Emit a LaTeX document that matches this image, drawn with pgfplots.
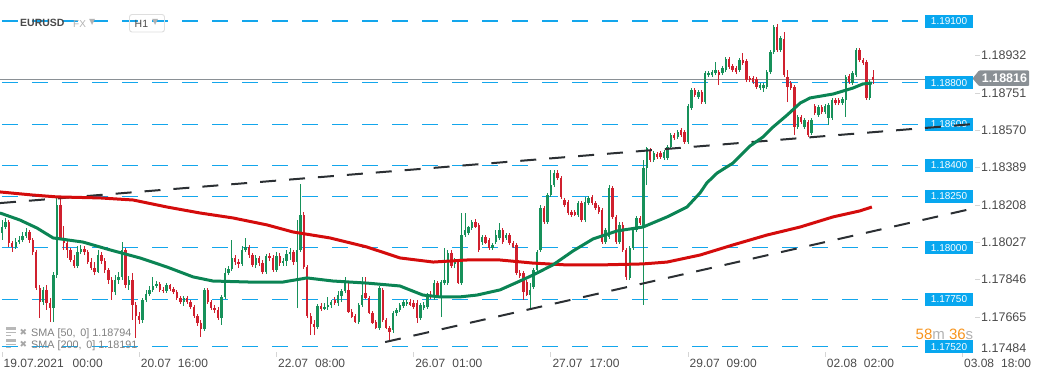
\documentclass[border=0pt]{standalone}
\usepackage{pgfplots}
\pgfplotsset{compat=1.18}
\usepackage{pgfplotstable}
\usepackage{fontspec}
\setmainfont{Liberation Sans}
\newfontfamily\symfont{DejaVu Sans}
\definecolor{levelblue}{HTML}{13A6EC}
\definecolor{levelbox}{HTML}{08A7EF}
\definecolor{candgreen}{HTML}{17915A}
\definecolor{candred}{HTML}{D0202E}
\definecolor{smagreen}{HTML}{0B8454}
\definecolor{smared}{HTML}{D40C0C}
\definecolor{trend}{HTML}{2B2F33}
\definecolor{pricegray}{HTML}{8A9095}
\definecolor{labelgray}{HTML}{4A4A4A}
\definecolor{tickgray}{HTML}{D5D5D5}
\definecolor{legendgray}{HTML}{808080}
\definecolor{countorange}{HTML}{F7941D}

\pgfplotstableread{
i o h l c
0 1.18072 1.18135 1.18038 1.18101
1 1.18101 1.18145 1.18091 1.18125
2 1.18125 1.18135 1.18004 1.18024
3 1.18024 1.18033 1.17980 1.18004
4 1.18004 1.18048 1.17994 1.18028
5 1.18028 1.18057 1.18019 1.18038
6 1.18038 1.18077 1.18028 1.18057
7 1.18057 1.18096 1.18048 1.18077
8 1.18077 1.18087 1.18024 1.18038
9 1.18038 1.18048 1.17965 1.17980
10 1.17980 1.17990 1.17796 1.17805
11 1.17805 1.17820 1.17660 1.17737
12 1.17737 1.17810 1.17723 1.17796
13 1.17796 1.17820 1.17699 1.17732
14 1.17732 1.17757 1.17640 1.17708
15 1.17708 1.17883 1.17640 1.17868
16 1.17868 1.18242 1.17854 1.18208
17 1.18208 1.18247 1.18038 1.18048
18 1.18048 1.18106 1.17990 1.18024
19 1.18024 1.18038 1.17951 1.17990
20 1.17990 1.17999 1.17931 1.17941
21 1.17941 1.17965 1.17902 1.17912
22 1.17912 1.18009 1.17902 1.17980
23 1.17980 1.18014 1.17970 1.17994
24 1.17994 1.18009 1.17965 1.17980
25 1.17980 1.17990 1.17922 1.17931
26 1.17931 1.17951 1.17893 1.17902
27 1.17902 1.17931 1.17868 1.17883
28 1.17883 1.17990 1.17878 1.17965
29 1.17965 1.17980 1.17922 1.17936
30 1.17936 1.17951 1.17878 1.17893
31 1.17893 1.17902 1.17825 1.17844
32 1.17844 1.17859 1.17747 1.17786
33 1.17786 1.17868 1.17771 1.17844
34 1.17844 1.17883 1.17825 1.17859
35 1.17859 1.18028 1.17844 1.17990
36 1.17990 1.17999 1.17805 1.17820
37 1.17820 1.17863 1.17796 1.17844
38 1.17844 1.17878 1.17650 1.17723
39 1.17723 1.17737 1.17563 1.17669
40 1.17669 1.17689 1.17631 1.17650
41 1.17650 1.17757 1.17636 1.17747
42 1.17747 1.17796 1.17737 1.17776
43 1.17776 1.17815 1.17766 1.17796
44 1.17796 1.17859 1.17786 1.17815
45 1.17815 1.17839 1.17805 1.17825
46 1.17825 1.17834 1.17786 1.17796
47 1.17796 1.17810 1.17781 1.17791
48 1.17791 1.17829 1.17781 1.17820
49 1.17820 1.17825 1.17791 1.17800
50 1.17800 1.17810 1.17776 1.17786
51 1.17786 1.17796 1.17747 1.17757
52 1.17757 1.17766 1.17728 1.17737
53 1.17737 1.17766 1.17718 1.17757
54 1.17757 1.17766 1.17728 1.17737
55 1.17737 1.17747 1.17703 1.17713
56 1.17713 1.17723 1.17660 1.17669
57 1.17669 1.17679 1.17621 1.17636
58 1.17636 1.17650 1.17568 1.17606
59 1.17606 1.17805 1.17597 1.17796
60 1.17796 1.17805 1.17728 1.17737
61 1.17737 1.17747 1.17699 1.17708
62 1.17708 1.17723 1.17684 1.17699
63 1.17699 1.17713 1.17650 1.17660
64 1.17660 1.17771 1.17626 1.17762
65 1.17762 1.17902 1.17752 1.17878
66 1.17878 1.17912 1.17868 1.17897
67 1.17897 1.18038 1.17888 1.17951
68 1.17951 1.17965 1.17917 1.17931
69 1.17931 1.17946 1.17902 1.17922
70 1.17922 1.18009 1.17912 1.17990
71 1.17990 1.18048 1.17980 1.18004
72 1.18004 1.18014 1.17951 1.17965
73 1.17965 1.17975 1.17907 1.17917
74 1.17917 1.17965 1.17902 1.17951
75 1.17951 1.17960 1.17912 1.17926
76 1.17926 1.17941 1.17873 1.17883
77 1.17883 1.17970 1.17873 1.17960
78 1.17960 1.17975 1.17936 1.17951
79 1.17951 1.17965 1.17883 1.17893
80 1.17893 1.17980 1.17883 1.17960
81 1.17960 1.17975 1.17912 1.17926
82 1.17926 1.17951 1.17912 1.17936
83 1.17936 1.17990 1.17912 1.17970
84 1.17970 1.17999 1.17941 1.17980
85 1.17980 1.17990 1.17917 1.17931
86 1.17931 1.18135 1.17708 1.17990
87 1.17990 1.18310 1.17980 1.18159
88 1.18159 1.18174 1.17897 1.17907
89 1.17907 1.17917 1.17660 1.17669
90 1.17669 1.17684 1.17577 1.17631
91 1.17631 1.17650 1.17577 1.17616
92 1.17616 1.17728 1.17606 1.17718
93 1.17718 1.17732 1.17694 1.17703
94 1.17703 1.17732 1.17699 1.17713
95 1.17713 1.17762 1.17699 1.17723
96 1.17723 1.17747 1.17708 1.17737
97 1.17747 1.17762 1.17723 1.17732
98 1.17732 1.17791 1.17718 1.17771
99 1.17766 1.17800 1.17737 1.17791
100 1.17791 1.17859 1.17781 1.17829
101 1.17796 1.17829 1.17684 1.17689
102 1.17689 1.17703 1.17660 1.17665
103 1.17669 1.17679 1.17636 1.17640
104 1.17640 1.17732 1.17631 1.17723
105 1.17723 1.17859 1.17713 1.17771
106 1.17781 1.17859 1.17752 1.17757
107 1.17757 1.17766 1.17679 1.17684
108 1.17684 1.17694 1.17631 1.17636
109 1.17640 1.17650 1.17606 1.17611
110 1.17611 1.17815 1.17602 1.17805
111 1.17796 1.17805 1.17640 1.17650
112 1.17650 1.17660 1.17606 1.17611
113 1.17611 1.17621 1.17553 1.17592
114 1.17602 1.17694 1.17587 1.17684
115 1.17684 1.17708 1.17669 1.17699
116 1.17699 1.17732 1.17689 1.17723
117 1.17718 1.17747 1.17708 1.17737
118 1.17728 1.17747 1.17718 1.17737
119 1.17737 1.17752 1.17718 1.17723
120 1.17732 1.17747 1.17703 1.17713
121 1.17732 1.17747 1.17636 1.17660
122 1.17660 1.17732 1.17650 1.17723
123 1.17708 1.17737 1.17699 1.17723
124 1.17713 1.17781 1.17703 1.17771
125 1.17771 1.17791 1.17752 1.17762
126 1.17762 1.17844 1.17747 1.17829
127 1.17829 1.17839 1.17757 1.17766
128 1.17766 1.17844 1.17665 1.17834
129 1.17829 1.17999 1.17820 1.17844
130 1.17829 1.17990 1.17820 1.17975
131 1.17975 1.17990 1.17902 1.17912
132 1.17922 1.17951 1.17902 1.17941
133 1.17931 1.17941 1.17825 1.17829
134 1.17829 1.18169 1.17820 1.18062
135 1.18062 1.18169 1.18053 1.18087
136 1.18072 1.18106 1.18062 1.18101
137 1.18096 1.18135 1.18087 1.18125
138 1.18125 1.18140 1.18096 1.18101
139 1.18111 1.18120 1.17980 1.17990
140 1.18028 1.18062 1.18014 1.18053
141 1.18053 1.18062 1.18019 1.18024
142 1.18038 1.18048 1.17990 1.17999
143 1.17999 1.18024 1.17990 1.18014
144 1.18028 1.18087 1.18019 1.18062
145 1.18048 1.18120 1.18038 1.18087
146 1.18087 1.18096 1.18019 1.18028
147 1.18048 1.18072 1.18038 1.18062
148 1.18062 1.18072 1.18014 1.18024
149 1.18024 1.18033 1.17999 1.18004
150 1.18014 1.18024 1.17868 1.17878
151 1.17878 1.17893 1.17854 1.17863
152 1.17878 1.17888 1.17747 1.17786
153 1.17834 1.17844 1.17766 1.17771
154 1.17771 1.17829 1.17699 1.17796
155 1.17810 1.17902 1.17800 1.17893
156 1.17893 1.17990 1.17883 1.17980
157 1.17990 1.18208 1.17980 1.18193
158 1.18193 1.18203 1.18116 1.18125
159 1.18125 1.18266 1.18116 1.18256
160 1.18256 1.18377 1.18247 1.18305
161 1.18305 1.18377 1.18295 1.18363
162 1.18363 1.18377 1.18329 1.18339
163 1.18339 1.18348 1.18237 1.18247
164 1.18232 1.18242 1.18198 1.18208
165 1.18222 1.18232 1.18159 1.18169
166 1.18174 1.18184 1.18150 1.18159
167 1.18174 1.18184 1.18154 1.18159
168 1.18159 1.18227 1.18150 1.18217
169 1.18217 1.18227 1.18125 1.18135
170 1.18135 1.18247 1.18125 1.18222
171 1.18217 1.18251 1.18208 1.18242
172 1.18247 1.18256 1.18208 1.18217
173 1.18217 1.18227 1.18184 1.18193
174 1.18198 1.18208 1.18164 1.18174
175 1.18184 1.18193 1.18019 1.18028
176 1.18028 1.18096 1.18019 1.18087
177 1.18053 1.18305 1.18043 1.18290
178 1.18290 1.18300 1.18140 1.18150
179 1.18150 1.18159 1.18019 1.18028
180 1.18028 1.18125 1.18019 1.18111
181 1.18111 1.18125 1.17980 1.17990
182 1.17990 1.17999 1.17844 1.17859
183 1.17854 1.18009 1.17844 1.17999
184 1.17999 1.18096 1.17990 1.18087
185 1.18087 1.18154 1.18077 1.18145
186 1.18145 1.18154 1.18111 1.18120
187 1.18096 1.18426 1.17723 1.18387
188 1.18387 1.18489 1.18305 1.18484
189 1.18475 1.18484 1.18416 1.18426
190 1.18426 1.18470 1.18416 1.18460
191 1.18455 1.18465 1.18431 1.18441
192 1.18460 1.18470 1.18431 1.18441
193 1.18436 1.18475 1.18426 1.18465
194 1.18436 1.18499 1.18426 1.18489
195 1.18489 1.18557 1.18479 1.18547
196 1.18547 1.18557 1.18523 1.18533
197 1.18538 1.18572 1.18528 1.18562
198 1.18572 1.18581 1.18538 1.18547
199 1.18562 1.18572 1.18504 1.18513
200 1.18513 1.18698 1.18504 1.18688
201 1.18678 1.18775 1.18669 1.18766
202 1.18766 1.18775 1.18732 1.18741
203 1.18732 1.18766 1.18722 1.18756
204 1.18756 1.18766 1.18698 1.18707
205 1.18707 1.18858 1.18698 1.18848
206 1.18838 1.18858 1.18829 1.18848
207 1.18838 1.18863 1.18829 1.18853
208 1.18848 1.18901 1.18838 1.18863
209 1.18853 1.18863 1.18790 1.18838
210 1.18848 1.18882 1.18838 1.18872
211 1.18863 1.18926 1.18853 1.18916
212 1.18916 1.18926 1.18867 1.18877
213 1.18882 1.18892 1.18853 1.18863
214 1.18872 1.18882 1.18843 1.18853
215 1.18863 1.18921 1.18853 1.18911
216 1.18911 1.18945 1.18887 1.18896
217 1.18906 1.18916 1.18804 1.18814
218 1.18824 1.18833 1.18804 1.18814
219 1.18824 1.18833 1.18795 1.18804
220 1.18819 1.18829 1.18770 1.18780
221 1.18775 1.18799 1.18766 1.18790
222 1.18775 1.18799 1.18756 1.18790
223 1.18780 1.18863 1.18770 1.18853
224 1.18853 1.18960 1.18843 1.18950
225 1.18950 1.19081 1.18940 1.19071
226 1.19071 1.19086 1.18950 1.18960
227 1.18960 1.19027 1.18950 1.19018
228 1.19013 1.19047 1.18829 1.18838
229 1.18829 1.18863 1.18707 1.18780
230 1.18799 1.18809 1.18766 1.18775
231 1.18780 1.18790 1.18547 1.18586
232 1.18586 1.18644 1.18576 1.18635
233 1.18635 1.18644 1.18601 1.18610
234 1.18586 1.18630 1.18576 1.18620
235 1.18610 1.18620 1.18538 1.18547
236 1.18557 1.18630 1.18547 1.18620
237 1.18688 1.18698 1.18644 1.18654
238 1.18644 1.18693 1.18635 1.18683
239 1.18683 1.18693 1.18649 1.18659
240 1.18659 1.18698 1.18649 1.18688
241 1.18630 1.18702 1.18596 1.18693
242 1.18630 1.18727 1.18620 1.18717
243 1.18717 1.18727 1.18693 1.18702
244 1.18717 1.18727 1.18693 1.18702
245 1.18702 1.18732 1.18693 1.18722
246 1.18717 1.18838 1.18635 1.18829
247 1.18833 1.18843 1.18795 1.18804
248 1.18799 1.18858 1.18790 1.18848
249 1.18838 1.18969 1.18829 1.18960
250 1.18960 1.18969 1.18901 1.18911
251 1.18911 1.18921 1.18887 1.18896
252 1.18901 1.18911 1.18717 1.18727
253 1.18727 1.18814 1.18717 1.18804
254 1.18829 1.18863 1.18795 1.18816
}\candles

\begin{document}
\begin{tikzpicture}
\useasboundingbox (0,0) rectangle (1041pt,379pt);
\begin{axis}[
  at={(0pt,379pt)}, anchor=north west,
  scale only axis, width=975pt, height=352pt,
  xmin=-0.583, xmax=283.67, ymin=1.174948, ymax=1.19202,
  axis line style={draw=none},
  clip=false,
  tick align=outside,
  major tick length=5pt,
  every tick/.style={draw=tickgray, line width=0.8pt},
  xtick pos=left, ytick pos=right,
  yticklabel pos=right,
  xtick={0,40,80,120,160,200,240,280},
  xticklabels={19.07.2021\hspace{9pt}00:00, 20.07\hspace{7pt}16:00, 22.07\hspace{7pt}08:00, 26.07\hspace{7pt}01:00, 27.07\hspace{7pt}17:00, 29.07\hspace{7pt}09:00, 02.08\hspace{7pt}02:00, 03.08\hspace{7pt}18:00},
  xticklabel style={anchor=north west, inner sep=0pt, xshift=1.5pt, yshift=-1.5pt, font=\fontsize{12}{14}\selectfont, text=labelgray},
  ytick={1.17665,1.17846,1.18027,1.18208,1.18389,1.18570,1.18751,1.18932},
  yticklabels={1.17665,1.17846,1.18027,1.18208,1.18389,1.18570,1.18751,1.18932},
  yticklabel style={anchor=west, inner sep=0pt, xshift=1pt, font=\fontsize{12.5}{14}\selectfont, text=labelgray},
  colormap={candle}{color=(candred) color=(candgreen)},
  point meta min=0, point meta max=1,
]
% horizontal levels
\pgfplotsinvokeforeach{1.191,1.188,1.186,1.184,1.1825,1.180,1.1775,1.1752}{
  \addplot[levelblue, line width=1.1pt, dash pattern=on 16pt off 14pt, forget plot] coordinates {(0,#1) (269.1,#1)};
}
% current price line
\addplot[pricegray, line width=0.9pt, forget plot] coordinates {(-0.583,1.18816) (283.1,1.18816)};
% level labels
\node[fill=levelbox, text=white, inner sep=0pt, minimum width=48pt, minimum height=13pt, font=\fontsize{10}{10}\selectfont] at (axis cs:276.1,1.191) {1.19100};
\node[fill=levelbox, text=white, inner sep=0pt, minimum width=48pt, minimum height=13pt, font=\fontsize{10}{10}\selectfont] at (axis cs:276.1,1.188) {1.18800};
\node[fill=levelbox, text=white, inner sep=0pt, minimum width=48pt, minimum height=13pt, font=\fontsize{10}{10}\selectfont] at (axis cs:276.1,1.186) {1.18600};
\node[fill=levelbox, text=white, inner sep=0pt, minimum width=48pt, minimum height=13pt, font=\fontsize{10}{10}\selectfont] at (axis cs:276.1,1.184) {1.18400};
\node[fill=levelbox, text=white, inner sep=0pt, minimum width=48pt, minimum height=13pt, font=\fontsize{10}{10}\selectfont] at (axis cs:276.1,1.1825) {1.18250};
\node[fill=levelbox, text=white, inner sep=0pt, minimum width=48pt, minimum height=13pt, font=\fontsize{10}{10}\selectfont] at (axis cs:276.1,1.180) {1.18000};
\node[fill=levelbox, text=white, inner sep=0pt, minimum width=48pt, minimum height=13pt, font=\fontsize{10}{10}\selectfont] at (axis cs:276.1,1.1775) {1.17750};
\node[fill=levelbox, text=white, inner sep=0pt, minimum width=48pt, minimum height=13pt, font=\fontsize{10}{10}\selectfont] at (axis cs:276.1,1.1752) {1.17520};
% candles: wicks and bodies
\addplot[quiver={u=0, v=\thisrow{h}-\thisrow{l}, colored}, line width=0.9pt, point meta={\thisrow{c}>\thisrow{o}}, forget plot] table[x=i, y=l] {\candles};
\addplot[quiver={u=0, v=\thisrow{c}-\thisrow{o}, colored}, line width=2.4pt, point meta={\thisrow{c}>\thisrow{o}}, forget plot] table[x=i, y=o] {\candles};
% trend lines
\addplot[trend, line width=2pt, dash pattern=on 16pt off 13pt, forget plot] coordinates {(-0.583,1.18217) (283.67,1.18601)};
\addplot[trend, line width=2pt, dash pattern=on 16pt off 13pt, forget plot] coordinates {(111.7,1.17543) (283.67,1.18193)};
% SMA 200
\addplot[smared, line width=3pt, line join=round, forget plot] coordinates {
(-0.6,1.18271) (9.0,1.18256) (16.0,1.18247) (28.6,1.18242) (38.2,1.18232) (48.1,1.18198) (57.7,1.18169) (67.3,1.18145) (77.3,1.18111) (84.8,1.18077) (95.6,1.18048) (106.4,1.18004) (116.0,1.17951) (125.7,1.17931) (135.6,1.17941) (145.2,1.17941) (154.8,1.17926) (164.7,1.17917) (174.3,1.17917) (186.9,1.17922) (193.9,1.17931) (203.5,1.17965) (213.1,1.18014) (223.0,1.18062) (232.7,1.18101) (242.3,1.18150) (250.1,1.18179) (253.6,1.18198)};
% SMA 50
\addplot[smagreen, line width=3pt, line join=round, forget plot] coordinates {
(-0.6,1.18169) (5.2,1.18135) (10.2,1.18096) (14.9,1.18048) (23.6,1.18028) (31.5,1.17990) (40.2,1.17951) (48.1,1.17907) (55.7,1.17859) (61.5,1.17839) (72.3,1.17834) (81.9,1.17834) (88.9,1.17854) (96.5,1.17839) (106.4,1.17829) (116.0,1.17815) (122.7,1.17771) (127.7,1.17762) (133.5,1.17762) (138.5,1.17771) (145.2,1.17796) (151.0,1.17839) (154.8,1.17868) (160.6,1.17917) (166.5,1.17985) (172.3,1.18043) (179.3,1.18082) (186.9,1.18101) (193.9,1.18150) (199.7,1.18198) (203.5,1.18266) (205.5,1.18315) (208.5,1.18363) (213.1,1.18411) (218.1,1.18494) (221.9,1.18538) (224.8,1.18586) (228.9,1.18644) (232.7,1.18702) (235.6,1.18727) (242.3,1.18746) (248.1,1.18775) (251.0,1.18795) (253.6,1.18799)};
\end{axis}
% decorations in pixel space
\begin{scope}[shift={(0pt,379pt)}, x=1pt, y=-1pt]
  % current price tag
  \fill[pricegray, rounded corners=1pt] (972.5,78.5) -- (979,70.5) -- (1029,70.5) -- (1029,86) -- (979,86) -- cycle;
  \node[text=white, font=\bfseries\fontsize{12.5}{12}\selectfont, inner sep=0pt] at (1004.5,78.6) {1.18816};
  % lowest right label
  \node[anchor=west, inner sep=0pt, text=labelgray, font=\fontsize{12.5}{14}\selectfont] at (981,348) {1.17484};
  % header
  \node[anchor=west, inner sep=0pt, text=labelgray, font=\bfseries\fontsize{10.5}{12}\selectfont] at (20,22.5) {EURUSD};
  \node[anchor=west, inner sep=0pt, text=black!30, font=\fontsize{10}{12}\selectfont] at (73,24) {FX};
  \node[anchor=west, inner sep=0pt, text=black!30, font=\symfont\fontsize{8}{10}\selectfont] at (89,22) {▼};
  \draw[black!13, line width=0.9pt, rounded corners=2.5pt] (129.5,14.5) rectangle (164.5,32);
  \node[anchor=west, inner sep=0pt, text=labelgray, font=\fontsize{10.5}{12}\selectfont] at (134.5,24) {H1};
  \node[anchor=west, inner sep=0pt, text=black!30, font=\symfont\fontsize{8}{10}\selectfont] at (152,22.5) {▼};
  % countdown
  \node[anchor=west, inner sep=0pt, font=\fontsize{15}{16}\selectfont] at (915.5,334) {\textcolor{countorange}{58}\textcolor{black!30}{m} \textcolor{countorange}{36}\textcolor{black!30}{s}};
  % SMA legend
  \fill[black!28] (6,327) rectangle (16,330.5);
  \fill[black!28] (6,332) rectangle (16,333.5);
  \fill[black!28] (6,335) rectangle (11,336.5);
  \node[anchor=west, inner sep=0pt, text=black!35, font=\symfont\fontsize{9}{10}\selectfont] at (19.5,332) {✖};
  \node[anchor=west, inner sep=0pt, text=legendgray, font=\fontsize{10.8}{12}\selectfont] at (31,333.5) {SMA [50,\ \,0] 1.18794};
  \fill[black!28] (6,339) rectangle (16,342.5);
  \fill[black!28] (6,344) rectangle (16,345.5);
  \fill[black!28] (6,347) rectangle (11,348.5);
  \node[anchor=west, inner sep=0pt, text=black!35, font=\symfont\fontsize{9}{10}\selectfont] at (19.5,344) {✖};
  \node[anchor=west, inner sep=0pt, text=legendgray, font=\fontsize{10.8}{12}\selectfont] at (31,345.5) {SMA [200,\ \,0] 1.18191};
\end{scope}
\end{tikzpicture}
\end{document}
